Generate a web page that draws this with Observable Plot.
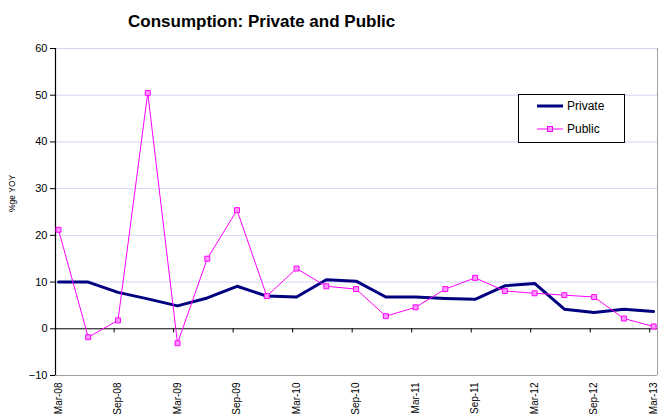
<!DOCTYPE html>
<html>
<head>
<meta charset="utf-8">
<script src="https://cdn.jsdelivr.net/npm/d3@7"></script>
<script src="https://cdn.jsdelivr.net/npm/@observablehq/plot@0.6"></script>
<style>
  body { margin: 0; background: #fff; font-family: "Liberation Sans", Arial, sans-serif; }
  #wrap { position: relative; width: 659px; height: 416px; overflow: hidden; }
  #title { position: relative; height: 40px; }
  #title span { position: absolute; left: 128px; top: 13px; font-size: 17px; font-weight: bold; line-height: 17px; white-space: nowrap; color: #000; }
  #legend { position: absolute; left: 518px; top: 94px; width: 105px; height: 47px; border: 1px solid #000; background: #fff; font-size: 12px; }
  .item { position: absolute; left: 18px; display: flex; align-items: center; }
  .item svg { margin-right: 4px; }
</style>
</head>
<body>
<div id="wrap">
  <div id="title"><span>Consumption: Private and Public</span></div>
  <div id="chart"></div>
  <div id="legend">
    <div class="item" style="top:4px"><svg width="26" height="10"><line x1="0" x2="26" y1="5" y2="5" stroke="#000080" stroke-width="3"/></svg>Private</div>
    <div class="item" style="top:27px"><svg width="26" height="10"><line x1="0" x2="26" y1="5" y2="5" stroke="#ff00ff" stroke-width="1"/><rect x="10.5" y="2.5" width="5" height="5" fill="#ff99ff" stroke="#ff00ff"/></svg>Public</div>
  </div>
</div>
<script>
const quarters = ["Mar-08","Jun-08","Sep-08","Dec-08","Mar-09","Jun-09","Sep-09","Dec-09","Mar-10","Jun-10","Sep-10","Dec-10","Mar-11","Jun-11","Sep-11","Dec-11","Mar-12","Jun-12","Sep-12","Dec-12","Mar-13"];
const privateVals = [10.0, 10.0, 7.8, 6.4, 4.9, 6.6, 9.1, 7.0, 6.8, 10.5, 10.2, 6.8, 6.8, 6.5, 6.3, 9.2, 9.7, 4.2, 3.5, 4.2, 3.7];
const publicVals = [21.2, -1.8, 1.8, 50.5, -3.1, 15.0, 25.4, 7.0, 12.9, 9.1, 8.5, 2.7, 4.6, 8.5, 10.9, 8.1, 7.6, 7.2, 6.8, 2.2, 0.5];
const yTicks = [-10, 0, 10, 20, 30, 40, 50, 60];
const gridVals = [10, 20, 30, 40, 50, 60];
const yLabel = "%ge YOY";

const idx = quarters.map((q, i) => i);
const labelIdx = idx.filter(i => i % 2 === 0);
const xMin = -0.1, xMax = 20.13;

const chart = Plot.plot({
  width: 659,
  height: 376,
  marginTop: 8,
  marginBottom: 41,
  marginLeft: 55,
  marginRight: 2,
  style: { fontFamily: "Liberation Sans, Arial, sans-serif", background: "transparent", overflow: "visible" },
  x: { domain: [xMin, xMax], axis: null },
  y: { domain: [-10, 60], axis: null },
  marks: [
    Plot.ruleY(gridVals, { stroke: "#d4d4f4", strokeWidth: 1 }),
    Plot.ruleY([-10], { stroke: "#a0a0a0", strokeWidth: 1 }),
    Plot.ruleX([xMax], { stroke: "#a0a0a0", strokeWidth: 1 }),
    Plot.ruleY([0], { stroke: "#000", strokeWidth: 1 }),
    Plot.ruleX(labelIdx.slice(1), { x: d => d - 0.13, y1: 0, y2: -0.9, stroke: "#000" }),
    Plot.ruleX([xMin], { stroke: "#000", strokeWidth: 1.2 }),
    Plot.axisY({ ticks: yTicks, tickSize: 5, tickPadding: 3, label: null, fontSize: 11, stroke: "#000" }),
    Plot.axisX({ ticks: labelIdx, tickFormat: i => quarters[i], tickRotate: -90, tickSize: 0, tickPadding: 7, label: null, fontSize: 10 }),
    Plot.text([yLabel], { text: d => d, frameAnchor: "left", rotate: -90, dx: -43, fontSize: 8.5, fill: "#000" }),
    Plot.line(idx, { x: i => i, y: i => privateVals[i], stroke: "#000080", strokeWidth: 3 }),
    Plot.line(idx, { x: i => i, y: i => publicVals[i], stroke: "#ff00ff", strokeWidth: 1 }),
    Plot.dot(idx, { x: i => i, y: i => publicVals[i], symbol: "square", r: 2.8, fill: "#ff99ff", stroke: "#ff00ff", strokeWidth: 1 })
  ]
});
document.getElementById("chart").appendChild(chart);
</script>
</body>
</html>
